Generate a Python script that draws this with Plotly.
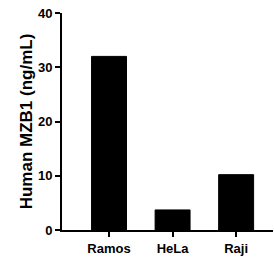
import plotly.graph_objects as go

categories = ["Ramos", "HeLa", "Raji"]
values = [32.0, 3.7, 10.2]
y_ticks = [0, 10, 20, 30, 40]

fig = go.Figure(go.Bar(
    x=categories, y=values, width=0.55,
    marker=dict(color="black", line=dict(color="black", width=1)),
))
font = "Liberation Sans, Arial, sans-serif"
fig.update_layout(
    width=274, height=260,
    margin=dict(l=62, r=1, t=13, b=30),
    paper_bgcolor="white", plot_bgcolor="white",
    showlegend=False,
    font=dict(family=font, color="black"),
)
fig.update_xaxes(
    range=[-0.74, 2.58], showline=True, linecolor="black", linewidth=2,
    ticks="outside", ticklen=5, tickwidth=1.5, tickcolor="black",
    tickfont=dict(size=13, family=font, weight="bold"), showgrid=False, zeroline=False,
)
fig.update_yaxes(
    range=[0, 40], tickvals=y_ticks, showline=True, linecolor="black", linewidth=2,
    ticks="outside", ticklen=5, tickwidth=1.5, tickcolor="black",
    tickfont=dict(size=13, family=font, weight="bold"), showgrid=False, zeroline=False,
    title=dict(text="Human MZB1 (ng/mL)", font=dict(size=17, family=font, weight="bold"), standoff=1),
)
fig.write_html("out.html", config={"displayModeBar": False},
               post_script="document.body.style.margin='0';")
